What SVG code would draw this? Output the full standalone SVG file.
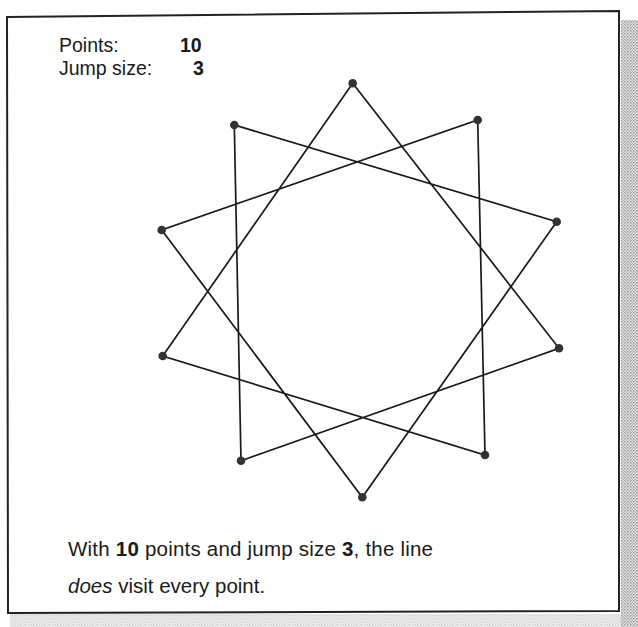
<svg xmlns="http://www.w3.org/2000/svg" width="638" height="627" viewBox="0 0 638 627">
<defs>
<pattern id="dots" width="3" height="3" patternUnits="userSpaceOnUse">
<rect width="3" height="3" fill="#e6e6e6"/>
<rect width="1.5" height="1.5" fill="#9a9a9a"/>
<rect x="1.5" y="1.5" width="1.5" height="1.5" fill="#b0b0b0"/>
</pattern>
<style>
.t{font-family:"Liberation Sans",Arial,sans-serif;fill:#1a1a1a}
.edge{stroke:#1a1a1a;stroke-width:1.7;fill:none}
.pt{fill:#333}
</style>
</defs>
<rect width="638" height="627" fill="#fff"/>
<rect x="621" y="20" width="17" height="607" fill="url(#dots)"/>
<rect x="10" y="614" width="628" height="13" fill="url(#dots)" opacity="0.5"/>
<path d="M7 17 L619 11 L619 611 L8 613 Z" fill="#fff" stroke="#222" stroke-width="2"/>
<g id="header">
<text class="t" x="59" y="52" font-size="19.5">Points:</text>
<text class="t" x="180" y="52" font-size="19.5" font-weight="bold">10</text>
<text class="t" x="59" y="75" font-size="19.5">Jump size:</text>
<text class="t" x="193" y="75" font-size="19.5" font-weight="bold">3</text>
</g>
<g id="connectors">
<polyline class="edge" points="352.7,83.3 559,348.3 241,460.7 234.3,125 556.7,221.7 362.3,497.3 161.7,230 477.7,120 485,455 162.7,356 352.7,83.3"/>
</g>
<g id="points">
<g id="p0"><circle class="pt" cx="352.7" cy="83.3" r="4.3"/></g>
<g id="p1"><circle class="pt" cx="477.7" cy="120" r="4.3"/></g>
<g id="p2"><circle class="pt" cx="556.7" cy="221.7" r="4.3"/></g>
<g id="p3"><circle class="pt" cx="559" cy="348.3" r="4.3"/></g>
<g id="p4"><circle class="pt" cx="485" cy="455" r="4.3"/></g>
<g id="p5"><circle class="pt" cx="362.3" cy="497.3" r="4.3"/></g>
<g id="p6"><circle class="pt" cx="241" cy="460.7" r="4.3"/></g>
<g id="p7"><circle class="pt" cx="162.7" cy="356" r="4.3"/></g>
<g id="p8"><circle class="pt" cx="161.7" cy="230" r="4.3"/></g>
<g id="p9"><circle class="pt" cx="234.3" cy="125" r="4.3"/></g>
</g>
<g id="caption">
<text class="t" x="68" y="556" font-size="20.5" textLength="365" lengthAdjust="spacing">With <tspan font-weight="bold">10</tspan> points and jump size <tspan font-weight="bold">3</tspan>, the line</text>
<text class="t" x="68" y="593" font-size="20.5"><tspan font-style="italic">does</tspan> visit every point.</text>
</g>
</svg>
